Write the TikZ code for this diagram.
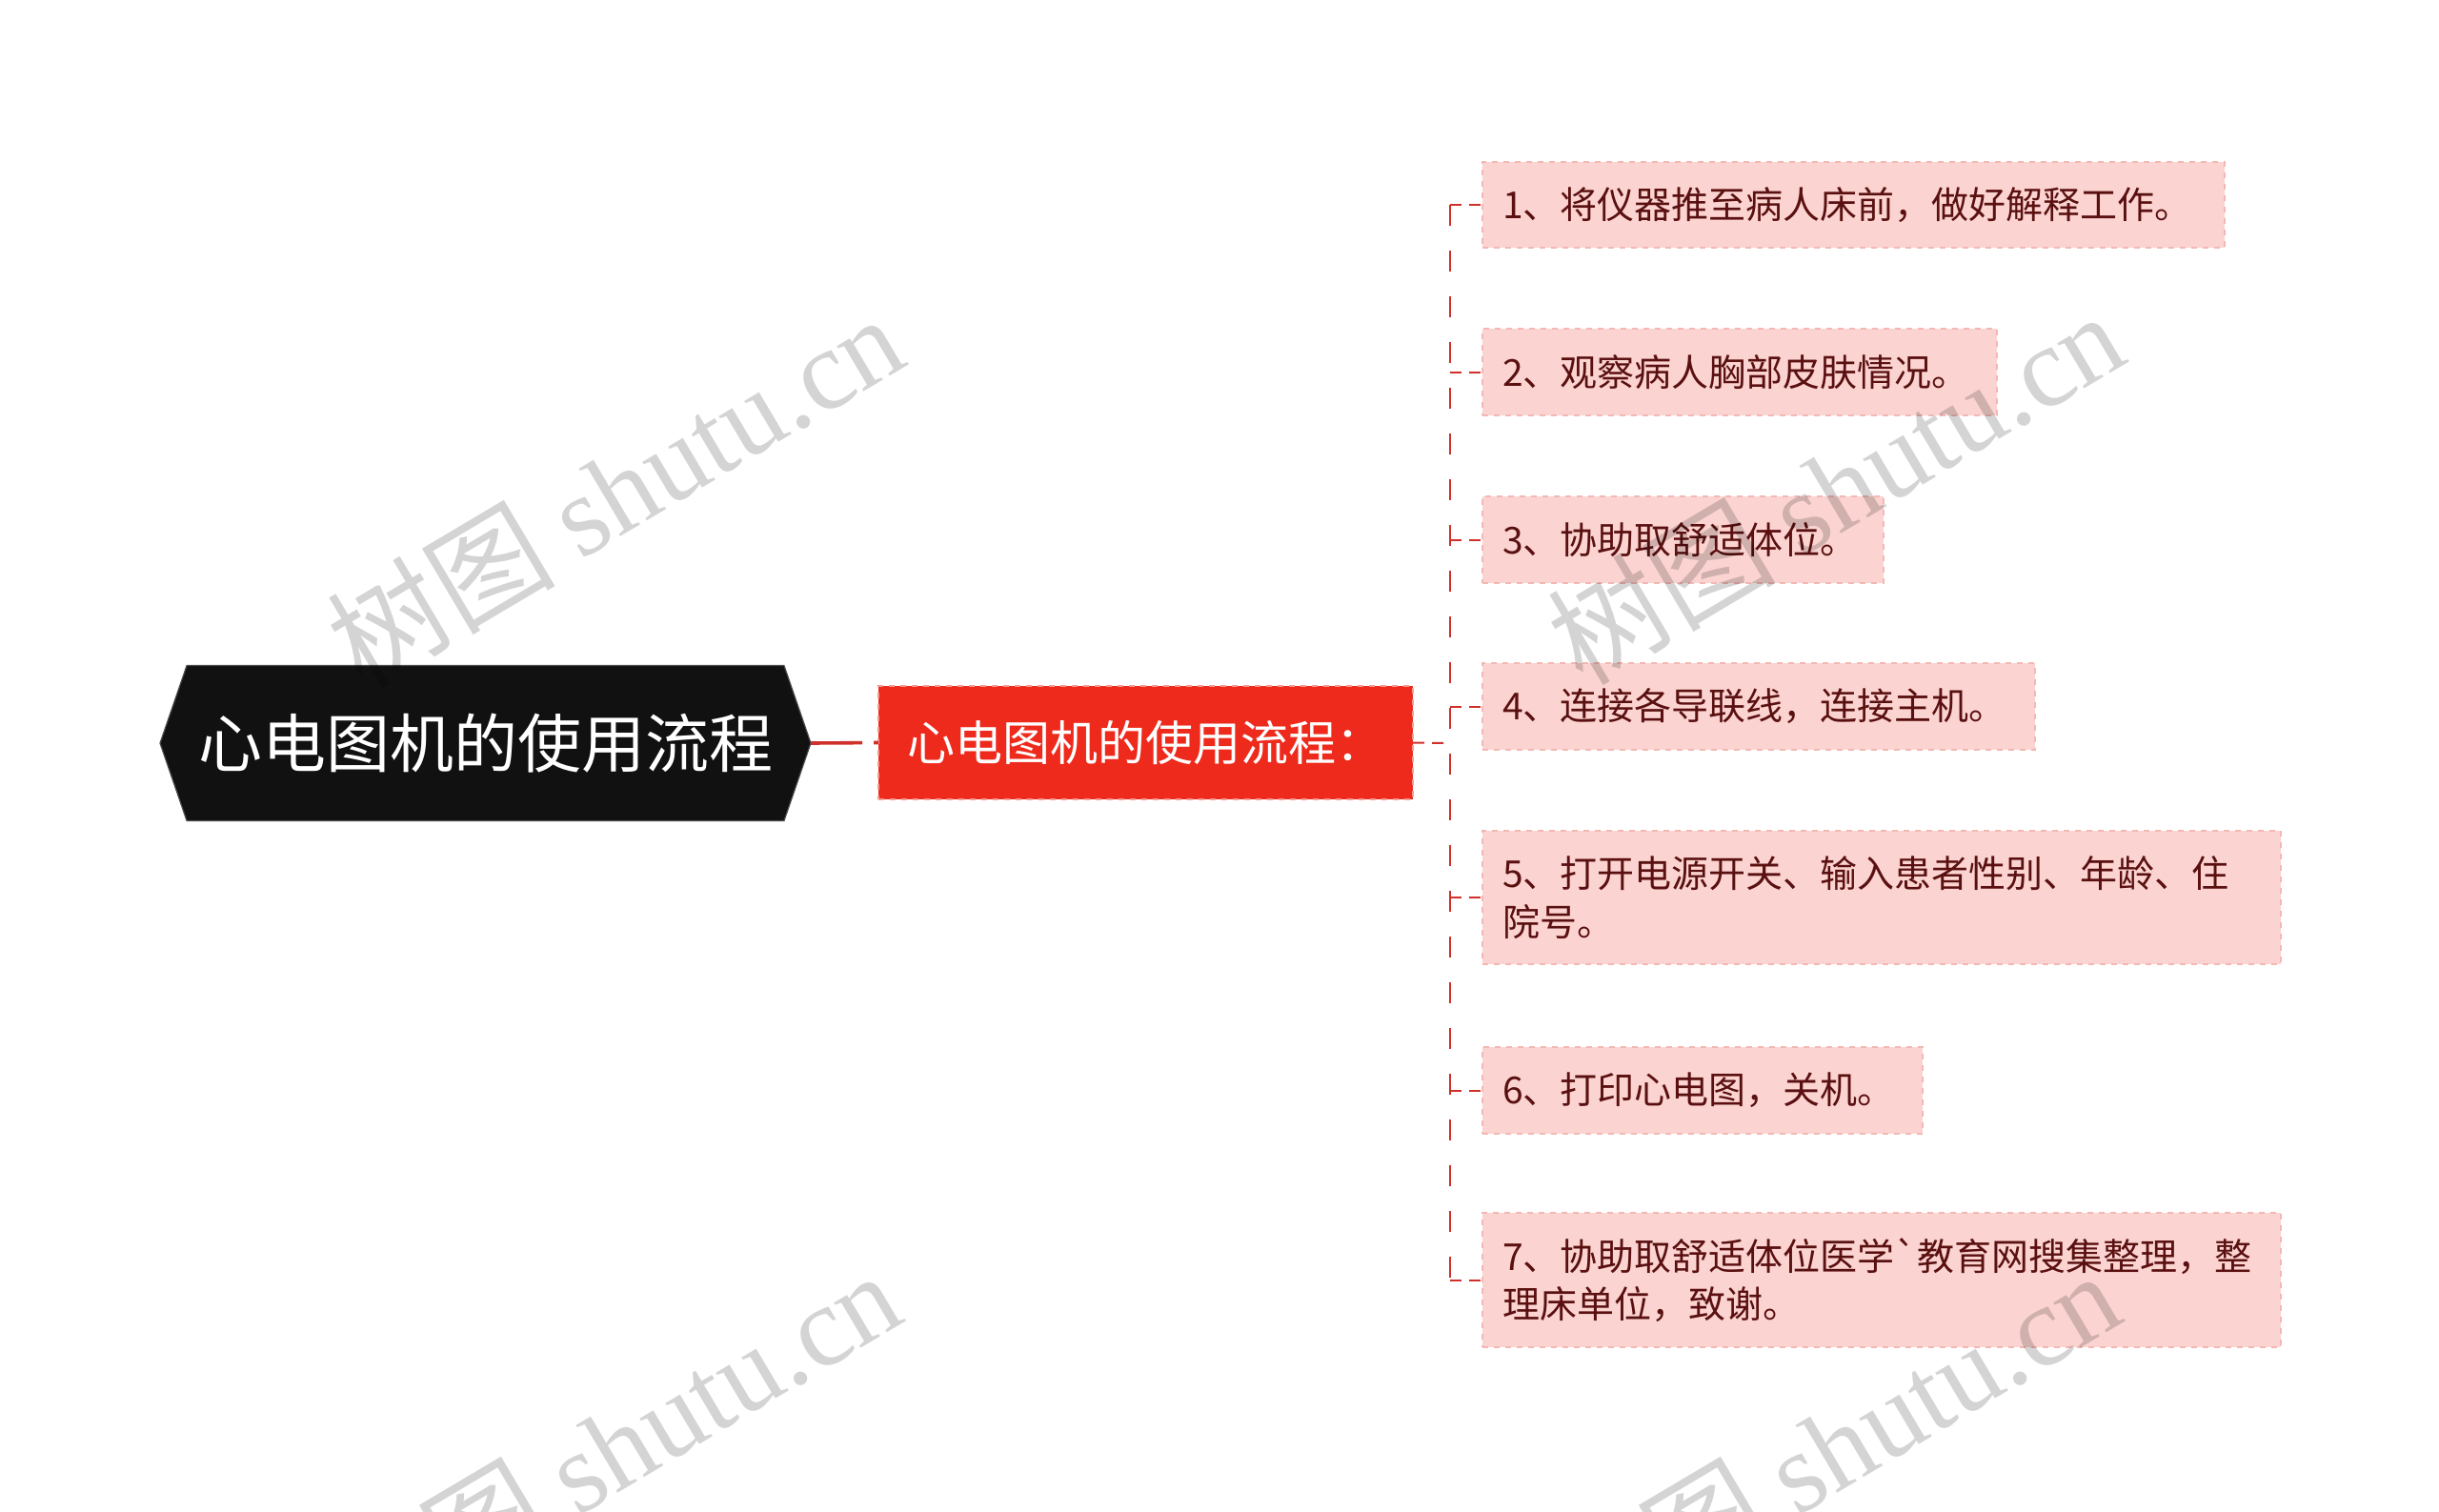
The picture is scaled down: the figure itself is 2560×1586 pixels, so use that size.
\documentclass[tikz,border=0pt]{standalone}
\usepackage{fontspec}
\setmainfont{Noto Sans CJK SC}
\newfontfamily\cjkfont{Noto Sans CJK SC}
\newfontfamily\rawcjk[Ligatures=ResetAll]{Noto Sans CJK SC}
\newfontfamily\wmserif{Liberation Serif}
\usetikzlibrary{shapes.symbols}
\definecolor{rootfill}{HTML}{111111}
\definecolor{subfill}{HTML}{EE2A1C}
\definecolor{subedge}{HTML}{F79A90}
\definecolor{itemfill}{HTML}{FBD4D1}
\definecolor{itemedge}{HTML}{F3B8B3}
\definecolor{itemtext}{HTML}{5A1010}
\definecolor{linkred}{HTML}{D0302B}
\begin{document}
\begin{tikzpicture}[x=0.5pt,y=-0.5pt,
  rootbox/.style={shape=signal, signal to=west and east, signal pointer angle=142,
    fill=rootfill, draw=black!70, line width=0.6pt, text=white,
    minimum width=341.5pt, minimum height=81.5pt, inner sep=0pt, outer sep=0pt,
    font=\fontsize{33.5}{40}\selectfont},
  subbox/.style={fill=subfill, draw=subedge, dashed, line width=0.8pt, text=white,
    minimum width=280.5pt, minimum height=59.5pt, inner sep=0pt, outer sep=0pt,
    font=\fontsize{25}{30}\selectfont},
  stepitem/.style 2 args={fill=itemfill, draw=itemedge, dashed, line width=0.8pt,
    text=itemtext, anchor=north west, align=left, text width=#1,
    minimum height=#2, inner xsep=10.5pt, inner ysep=0pt, outer sep=0pt,
    font=\fontsize{19.5}{25.3}\selectfont},
  rootlink/.style={draw=linkred, line width=1.8pt, dash pattern=on 27pt off 6pt on 5pt off 3pt},
  trunk/.style={draw=linkred, line width=1pt, dash pattern=on 11pt off 13pt},
  stub/.style={draw=linkred, line width=1pt, dash pattern=on 6pt off 4pt},
  wm/.style={text=black, opacity=0.17, font=\fontsize{60}{70}\selectfont, inner sep=0pt}
]
\fill[white] (0,0) rectangle (2560,1586);
\useasboundingbox (0,0) rectangle (2560,1586);

% nodes
\node[rootbox] (root) at (509.5,780) {心电图机的使用流程};
\node[subbox] (sub) at (1202.5,779.5) {心电图机的使用流程：};

\node[stepitem={368.5pt}{45pt}] (c1) at (1556,170) {1、将仪器推至病人床前，做好解释工作。};
\node[stepitem={249pt}{45.5pt}] (c2) at (1556,345) {2、观察病人胸部皮肤情况。};
\node[stepitem={189.5pt}{45.5pt}] (c3) at (1556,521) {3、协助取舒适体位。};
\node[stepitem={269pt}{45.5pt}] (c4) at (1556,696) {4、连接各导联线，连接主机。};
\node[stepitem={398pt}{70pt}] (c5) at (1556,872) {5、打开电源开关、输入患者性别、年龄、住\\院号。};
\node[stepitem={210pt}{45.5pt}] (c6) at (1556,1099) {6、打印心电图，关机。};
\node[stepitem={398pt}{70.5pt}] (c7) at (1556,1273) {7、协助取舒适体位医学{\rawcjk `}教育网搜集整理，整\\理床单位，致谢。};

% connectors
\coordinate (j) at (1522,780);
\draw[rootlink] (root.east) -- (sub.west);
\draw[stub] (sub.east) -- (j);
\draw[trunk] (c1.west -| j) -- (c7.west -| j);
\foreach \i in {1,...,7}{
  \draw[stub] (c\i.west -| j) -- (c\i.west);
}

% watermarks
\node[wm, rotate=30.7] (w1) at (645,514) {{\cjkfont 树图} {\wmserif shutu.cn}};
\node[wm, rotate=30.7] (w2) at (1926,511) {{\cjkfont 树图} {\wmserif shutu.cn}};
\node[wm, rotate=30.7] (w3) at (642,1518) {{\cjkfont 树图} {\wmserif shutu.cn}};
\node[wm, rotate=30.7] (w4) at (1922,1518) {{\cjkfont 树图} {\wmserif shutu.cn}};
\end{tikzpicture}
\end{document}
